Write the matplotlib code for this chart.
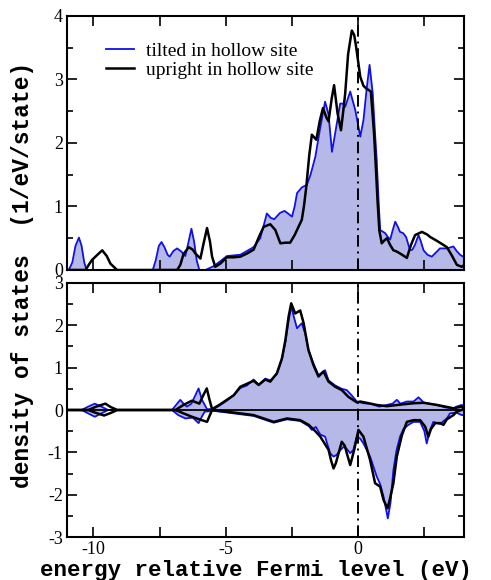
import numpy as np
import matplotlib
matplotlib.use("Agg")
import matplotlib.pyplot as plt
from matplotlib.ticker import MultipleLocator

# ---- data (energy in eV, DOS in 1/eV/state) ----
# total DOS, tilted molecule
e_tilt = [-11.0, -10.93, -10.80, -10.68, -10.55, -10.45, -10.35, -10.26,
          -7.76, -7.65, -7.53, -7.43, -7.32, -7.20, -7.12, -6.98, -6.84, -6.68, -6.53, -6.42, -6.30, -6.20, -6.10, -6.0,
          -5.77, -5.46, -5.2, -4.96, -4.7, -4.45, -4.2, -3.95, -3.70, -3.57, -3.45, -3.30, -3.17, -2.95, -2.78, -2.62,
          -2.50, -2.40, -2.31, -2.13, -1.94, -1.80, -1.62, -1.45, -1.25, -1.12, -0.99, -0.87, -0.68, -0.58, -0.49,
          -0.30, -0.11, 0.08, 0.20, 0.32, 0.43, 0.55, 0.63, 0.70, 0.77, 0.83, 1.02, 1.12, 1.21, 1.30, 1.40, 1.50,
          1.58, 1.70, 1.81, 1.96, 2.05, 2.15, 2.28, 2.37, 2.47, 2.62, 2.78, 2.95, 3.09, 3.35, 3.60, 3.72, 3.85, 4.0]
dos_tilt = [0, 0, 0.12, 0.38, 0.51, 0.38, 0.12, 0,
            0, 0.15, 0.38, 0.44, 0.36, 0.24, 0.21, 0.30, 0.34, 0.29, 0.22, 0.42, 0.65, 0.45, 0.15, 0,
            0, 0.06, 0.14, 0.22, 0.23, 0.24, 0.30, 0.36, 0.50, 0.70, 0.89, 0.82, 0.80, 0.90, 0.93, 0.88,
            0.84, 1.00, 1.21, 1.30, 1.34, 1.50, 1.78, 2.20, 2.65, 2.45, 1.86, 2.15, 2.62, 2.62, 2.57,
            2.81, 2.52, 2.10, 2.36, 2.85, 3.23, 2.78, 2.20, 1.73, 1.10, 0.63, 0.58, 0.52, 0.48, 0.62, 0.76, 0.68,
            0.60, 0.58, 0.52, 0.31, 0.32, 0.40, 0.55, 0.45, 0.31, 0.24, 0.21, 0.28, 0.34, 0.34, 0.37, 0.30, 0.24, 0.20]

# total DOS, upright molecule
e_up = [-11.0, -10.30, -10.15, -10.05, -9.85, -9.67, -9.50, -9.36, -9.11,
        -6.84, -6.72, -6.60, -6.40, -6.25, -6.15, -5.96, -5.85, -5.71, -5.60, -5.52, -5.40, -5.21, -4.96, -4.70,
        -4.45, -4.20, -3.95, -3.75, -3.57, -3.32, -3.13, -2.94, -2.75, -2.57, -2.40, -2.31, -2.13, -2.05, -1.96,
        -1.85, -1.75, -1.58, -1.45, -1.33, -1.20, -1.12, -1.00, -0.91, -0.78, -0.65, -0.55, -0.49, -0.38, -0.24,
        -0.15, -0.08, 0.08, 0.20, 0.30, 0.48, 0.60, 0.67, 0.73, 0.80, 0.89, 1.00, 1.09, 1.20, 1.33, 1.46, 1.66,
        1.84, 2.00, 2.15, 2.41, 2.60, 2.72, 2.97, 3.20, 3.35, 3.55, 3.73, 3.92, 4.0]
dos_up = [0, 0, 0.10, 0.16, 0.24, 0.31, 0.22, 0.10, 0,
          0, 0.08, 0.25, 0.36, 0.32, 0.26, 0.18, 0.40, 0.66, 0.45, 0.21, 0.05, 0.10, 0.20, 0.20,
          0.21, 0.26, 0.32, 0.52, 0.68, 0.72, 0.63, 0.42, 0.43, 0.43, 0.55, 0.63, 0.79, 1.00, 1.31,
          1.80, 2.13, 2.05, 2.35, 2.55, 2.40, 2.34, 2.70, 2.91, 2.47, 2.20, 2.55, 2.78, 3.40, 3.77,
          3.70, 3.52, 3.04, 2.90, 2.86, 2.81, 2.15, 1.60, 1.10, 0.62, 0.42, 0.47, 0.50, 0.40, 0.31, 0.29, 0.24,
          0.19, 0.40, 0.55, 0.60, 0.56, 0.52, 0.46, 0.40, 0.36, 0.22, 0.08, 0.05, 0.08]

# spin resolved, tilted: majority (positive) and minority (negative)
e_tilt_maj = [-11.0, -10.45, -10.2, -9.95, -9.7, -9.45, -7.03, -6.88, -6.72, -6.60, -6.47, -6.30, -6.15, -6.03,
              -5.90, -5.71, -5.46, -5.2, -4.96, -4.70, -4.45, -4.20, -3.95, -3.76, -3.51, -3.32, -3.07, -2.88,
              -2.75, -2.63, -2.53, -2.43, -2.31, -2.13, -2.00, -1.88, -1.69, -1.50, -1.25, -1.12, -0.87, -0.62,
              -0.43, -0.25, -0.05, 0.20, 0.50, 0.80, 1.08, 1.30, 1.46, 1.60, 1.84, 2.09, 2.28, 2.47, 2.70, 2.97,
              3.30, 3.60, 3.72, 3.91, 4.0]
dos_tilt_maj = [0, 0, 0.08, 0.15, 0.08, 0, 0, 0.12, 0.24, 0.15, 0.08, 0.15, 0.35, 0.51,
                0.24, 0.02, 0.02, 0.12, 0.22, 0.35, 0.52, 0.58, 0.72, 0.60, 0.74, 0.70, 0.85, 1.20,
                1.60, 2.10, 2.45, 2.20, 1.93, 2.05, 1.80, 1.42, 1.10, 0.82, 0.94, 0.70, 0.58, 0.50,
                0.47, 0.35, 0.20, 0.16, 0.14, 0.08, 0.12, 0.15, 0.24, 0.15, 0.20, 0.20, 0.30, 0.18, 0.15, 0.12,
                0.06, 0.04, 0.08, 0.12, 0.10]
e_tilt_min = [-11.0, -10.45, -10.2, -9.95, -9.7, -9.45, -7.03, -6.80, -6.53, -6.25, -6.03, -5.90, -5.80, -5.46,
              -4.70, -3.95, -3.19, -2.69, -2.19, -1.87, -1.75, -1.60, -1.43, -1.25, -1.06, -0.93, -0.81, -0.68,
              -0.55, -0.43, -0.30, -0.18, -0.05, 0.08, 0.20, 0.45, 0.70, 0.83, 0.96, 1.12, 1.22, 1.33, 1.45,
              1.58, 1.71, 1.90, 2.09, 2.34, 2.50, 2.59, 2.70, 2.84, 3.09, 3.35, 3.47, 3.70, 3.91, 4.0]
dos_tilt_min = [0, 0, -0.08, -0.16, -0.08, 0, 0, -0.12, -0.20, -0.18, -0.31, -0.15, -0.04, -0.02,
                -0.08, -0.14, -0.30, -0.22, -0.26, -0.38, -0.47, -0.40, -0.58, -0.63, -1.02, -1.10, -1.06, -0.95,
                -0.87, -0.92, -1.02, -0.94, -0.63, -0.68, -0.79, -1.10, -1.57, -1.75, -2.05, -2.56, -2.20, -1.42, -0.95,
                -0.63, -0.45, -0.35, -0.28, -0.28, -0.50, -0.79, -0.50, -0.28, -0.33, -0.20, -0.08, -0.06, -0.12, -0.12]

# spin resolved, upright
e_up_maj = [-11.0, -10.20, -9.90, -9.55, -9.35, -9.10, -6.90, -6.60, -6.28, -6.00, -5.85, -5.72, -5.62, -5.52,
            -5.2, -4.96, -4.70, -4.45, -4.20, -3.95, -3.76, -3.51, -3.32, -3.07, -2.88, -2.75, -2.63, -2.53,
            -2.38, -2.19, -2.06, -1.88, -1.69, -1.50, -1.31, -1.12, -0.87, -0.62, -0.37, -0.05, 0.08, 0.40,
            0.70, 1.08, 1.50, 2.09, 2.47, 2.97, 3.30, 3.60, 3.91, 4.0]
dos_up_maj = [0, 0, 0.08, 0.15, 0.07, 0, 0, 0.12, 0.22, 0.15, 0.35, 0.51, 0.25, 0.02,
              0.14, 0.24, 0.35, 0.55, 0.62, 0.69, 0.59, 0.72, 0.67, 0.87, 1.22, 1.65, 2.20, 2.52,
              2.28, 2.35, 2.05, 1.42, 1.06, 0.79, 0.91, 0.67, 0.55, 0.47, 0.31, 0.18, 0.20, 0.16,
              0.12, 0.09, 0.12, 0.16, 0.17, 0.12, 0.08, 0.04, 0.08, 0.06]
e_up_min = [-11.0, -10.20, -9.90, -9.60, -9.35, -9.10, -6.90, -6.60, -6.28, -6.00, -5.71, -5.52, -4.70, -3.95,
            -3.19, -2.69, -2.19, -1.87, -1.65, -1.43, -1.12, -1.02, -0.93, -0.84, -0.74, -0.62, -0.50, -0.43,
            -0.30, -0.15, 0.01, 0.20, 0.45, 0.64, 0.83, 0.96, 1.11, 1.20, 1.33, 1.46, 1.65, 1.84, 2.09, 2.34,
            2.53, 2.65, 2.75, 2.91, 3.09, 3.22, 3.35, 3.60, 3.72, 3.91, 4.0]
dos_up_min = [0, 0, -0.07, -0.13, -0.07, 0, 0, -0.08, -0.16, -0.22, -0.28, 0, -0.06, -0.12,
              -0.28, -0.20, -0.24, -0.35, -0.48, -0.63, -0.94, -1.20, -1.38, -1.25, -1.02, -0.75, -0.85, -1.02,
              -1.30, -0.94, -0.47, -0.63, -1.18, -1.73, -1.81, -2.13, -2.32, -2.10, -1.73, -1.10, -0.60, -0.28, -0.24, -0.24,
              -0.39, -0.63, -0.45, -0.31, -0.31, -0.35, -0.22, -0.12, -0.04, 0.0, 0.04]

labels = ["tilted in hollow site", "upright in hollow site"]
blue = "#1010e8"
fill_col = "#b6b9e7"
serif = "Liberation Serif"
mono = "Liberation Mono"


def style_axis(ax, ylim, major, minor):
    ax.set_xlim(-11, 4)
    ax.set_ylim(*ylim)
    ax.xaxis.set_major_locator(MultipleLocator(5))
    ax.xaxis.set_minor_locator(MultipleLocator(2.5))
    ax.yaxis.set_major_locator(MultipleLocator(major))
    ax.yaxis.set_minor_locator(MultipleLocator(minor))
    ax.tick_params(which="both", direction="in", top=True, right=True, width=1.2,
                   labelsize=13, pad=3)
    ax.tick_params(which="major", length=7.5)
    ax.tick_params(which="minor", length=7.5, axis="x")
    ax.tick_params(which="minor", length=4, axis="y")
    for sp in ax.spines.values():
        sp.set_linewidth(1.5)
    for lab in ax.get_xticklabels() + ax.get_yticklabels():
        lab.set_fontfamily(serif)
    ax.axvline(0, color="black", lw=1.4, ls=(0, (6, 2.5, 1, 2.5)), zorder=4)


fig = plt.figure(figsize=(4.91, 5.80), dpi=100)
ax1 = fig.add_axes([0.1365, 0.5345, 0.8086, 0.438])
ax2 = fig.add_axes([0.1365, 0.0741, 0.8086, 0.438])

# top panel: total DOS
ax1.fill_between(e_tilt, 0, dos_tilt, color=fill_col, lw=0, zorder=1)
ax1.plot(e_tilt, dos_tilt, color=blue, lw=1.3, label=labels[0], zorder=2)
ax1.plot(e_up, dos_up, color="black", lw=1.8, label=labels[1], zorder=3)
style_axis(ax1, (0, 4), 1, 0.5)
ax1.set_xticklabels([])
leg = ax1.legend(loc="upper left", bbox_to_anchor=(0.055, 0.965), frameon=False,
                 handlelength=1.4, handletextpad=0.65, labelspacing=0.05,
                 prop={"family": serif, "size": 14})

# bottom panel: spin resolved DOS
ax2.fill_between(e_tilt_maj, 0, dos_tilt_maj, color=fill_col, lw=0, zorder=1)
ax2.fill_between(e_tilt_min, 0, dos_tilt_min, color=fill_col, lw=0, zorder=1)
ax2.plot(e_tilt_maj, dos_tilt_maj, color=blue, lw=1.3, zorder=2)
ax2.plot(e_tilt_min, dos_tilt_min, color=blue, lw=1.3, zorder=2)
ax2.plot(e_up_maj, dos_up_maj, color="black", lw=1.8, zorder=3)
ax2.plot(e_up_min, dos_up_min, color="black", lw=1.8, zorder=3)
ax2.axhline(0, color="black", lw=1.3, zorder=3)
style_axis(ax2, (-3, 3), 1, 0.5)
ax2.set_xticks([-10, -5, 0])
ax2.set_xticklabels(["-10", "-5", "0"], fontfamily=serif)
ax2.set_yticks(range(-3, 4))
ax2.set_yticklabels([str(v) for v in range(-3, 4)], fontfamily=serif)

fig.text(0.045, 0.526, "density of states  (1/eV/state)", rotation=90, ha="center", va="center",
         fontfamily=mono, fontweight="bold", fontsize=16.5)
fig.text(0.081, 0.017, "energy relative Fermi level (eV)", ha="left", va="center",
         fontfamily=mono, fontweight="bold", fontsize=16.2)

fig.savefig("out.png", dpi=100)
